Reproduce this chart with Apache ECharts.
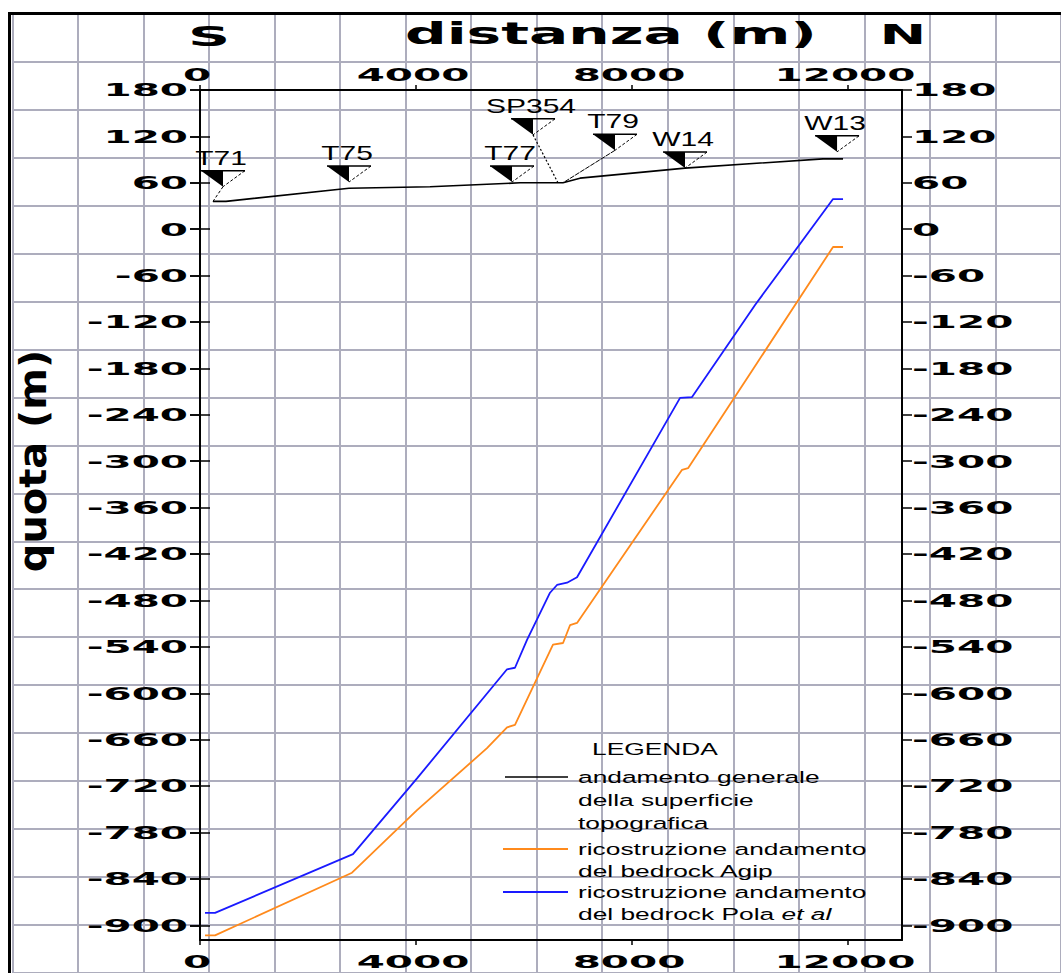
<!DOCTYPE html>
<html><head><meta charset="utf-8">
<script src="https://cdn.jsdelivr.net/npm/echarts@6/dist/echarts.min.js"></script>
<style>html,body{margin:0;padding:0;background:#fff}#main{width:1061px;height:973px}</style>
</head><body><div id="main"></div>
<script>
// ---- data ----
const xTicks = [0, 4000, 8000, 12000];
const xTickLabels = ['0', '4000', '8000', '12000'];
const yTicks = [180, 120, 60, 0, -60, -120, -180, -240, -300, -360, -420, -480, -540, -600, -660, -720, -780, -840, -900];
const yTickLabels = ['180', '120', '60', '0', '-60', '-120', '-180', '-240', '-300', '-360', '-420', '-480', '-540', '-600', '-660', '-720', '-780', '-840', '-900'];

// andamento generale della superficie topografica
const topo = [[241, 36], [481, 36], [2759, 53], [4259, 55], [5926, 60], [6722, 60], [7037, 66], [8982, 79], [11538, 91], [11908, 91]];
// ricostruzione andamento del bedrock Agip
const bedrockAgip = [[93, -913], [278, -913], [2815, -832], [4019, -751], [5315, -671], [5686, -644], [5833, -641], [6537, -537], [6723, -535], [6852, -512], [6982, -509], [8927, -311], [9038, -309], [10241, -181], [11723, -23], [11908, -23]];
// ricostruzione andamento del bedrock Pola et al
const bedrockPola = [[93, -884], [278, -884], [2833, -808], [4019, -710], [5686, -569], [5833, -567], [6056, -531], [6482, -470], [6611, -460], [6797, -457], [6982, -450], [8890, -218], [9112, -217], [10279, -98], [11723, 39], [11908, 39]];

const wellNames = ['T71', 'T75', 'T77', 'SP354', 'T79', 'W14', 'W13'];
const wellX = [426, 2759, 5778, 6167, 7685, 8982, 11797];
const wellY = [55, 61, 61, 122, 102, 79, 100];

const leaderT71 = [[426, 55], [241, 36]];
const leaderSP354 = [[6167, 122], [6630, 60]];
const leaderT79 = [[7685, 102], [6722, 60]];

const X_MIN = 0, X_MAX = 13000, Y_MIN = -919, Y_MAX = 180;

// ---- chart ----
const chart = echarts.init(document.getElementById('main'), null, { renderer: 'svg' });

const axisBlack = { show: true, onZero: false, lineStyle: { color: '#000', width: 2 } };
function xAx(pos) {
  return {
    gridIndex: 0, type: 'value', position: pos, min: X_MIN, max: X_MAX,
    axisLine: axisBlack,
    axisTick: { show: true, inside: false, length: 5, customValues: xTicks, lineStyle: { color: '#000', width: 1.5 } },
    axisLabel: { show: false, customValues: xTicks },
    splitLine: { show: false }
  };
}
function yAx(pos, inside, line) {
  return {
    gridIndex: 0, type: 'value', position: pos, min: Y_MIN, max: Y_MAX,
    axisLine: line ? axisBlack : { show: false },
    axisTick: { show: true, inside: inside, length: 10, customValues: yTicks, lineStyle: { color: '#000', width: 1.5 } },
    axisLabel: { show: false, customValues: yTicks },
    splitLine: { show: false }
  };
}
const paperLine = { show: true, lineStyle: { color: '#adadbd', width: 2 } };

const option = {
  animation: false,
  backgroundColor: '#fff',
  grid: [
    { left: 200, right: 159, top: 90, bottom: 33 },
    { left: 12.4, top: 13.6, width: 1081.6, height: 968 }
  ],
  xAxis: [
    xAx('bottom'), xAx('top'),
    { gridIndex: 1, type: 'value', min: 0, max: 16, interval: 1, axisLine: { show: false }, axisTick: { show: false }, axisLabel: { show: false }, splitLine: paperLine }
  ],
  yAxis: [
    yAx('left', false, true), yAx('right', false, true), yAx('left', true, false), yAx('right', true, false),
    { gridIndex: 1, type: 'value', inverse: true, min: 0, max: 20, interval: 1, axisLine: { show: false }, axisTick: { show: false }, axisLabel: { show: false }, splitLine: paperLine }
  ],
  series: [
    { name: 'andamento generale della superficie topografica', type: 'line', xAxisIndex: 0, yAxisIndex: 0, data: topo, symbol: 'none', lineStyle: { color: '#000', width: 1.6 }, z: 5 },
    { name: 'ricostruzione andamento del bedrock Agip', type: 'line', xAxisIndex: 0, yAxisIndex: 0, data: bedrockAgip, symbol: 'none', lineStyle: { color: '#ff8a1c', width: 1.8 }, z: 5 },
    { name: 'ricostruzione andamento del bedrock Pola et al', type: 'line', xAxisIndex: 0, yAxisIndex: 0, data: bedrockPola, symbol: 'none', lineStyle: { color: '#1a1aff', width: 1.8 }, z: 5 },
    { type: 'line', xAxisIndex: 0, yAxisIndex: 0, data: leaderT71, symbol: 'none', lineStyle: { color: '#000', width: 1, type: [3, 2] }, z: 5 },
    { type: 'line', xAxisIndex: 0, yAxisIndex: 0, data: leaderSP354, symbol: 'none', lineStyle: { color: '#000', width: 1.2, type: [2, 2] }, z: 5 },
    { type: 'line', xAxisIndex: 0, yAxisIndex: 0, data: leaderT79, symbol: 'none', lineStyle: { color: '#000', width: 1, type: [5, 1] }, z: 5 },
    {
      type: 'custom', xAxisIndex: 0, yAxisIndex: 0, z: 6, clip: false,
      data: wellX.map((x, i) => [x, wellY[i]]),
      renderItem: function (params, api) {
        const p = api.coord([api.value(0), api.value(1)]);
        const ax = p[0], ay = p[1], w = 22, h = 16;
        return {
          type: 'group', children: [
            { type: 'polygon', shape: { points: [[ax - w, ay - h], [ax, ay - h], [ax, ay]] }, style: { fill: '#000' } },
            { type: 'line', shape: { x1: ax - w, y1: ay - h, x2: ax + w, y2: ay - h }, style: { stroke: '#000', lineWidth: 1.5 } },
            { type: 'line', shape: { x1: ax + w, y1: ay - h, x2: ax, y2: ay }, style: { stroke: '#000', lineWidth: 1, lineDash: [3, 2] } },
            { type: 'text', x: ax - 2, y: ay - h - 3, scaleX: 1.5, style: { text: wellNames[params.dataIndex], font: '20px "Liberation Sans"', fill: '#000', align: 'center', verticalAlign: 'bottom', textAlign: 'center', textVerticalAlign: 'bottom' } }
          ]
        };
      }
    }
  ]
};
chart.setOption(option);

// ---- text (stretched like the reference) ----
const toPx = v => chart.convertToPixel({ xAxisIndex: 0 }, v);
const toPy = v => chart.convertToPixel({ yAxisIndex: 0 }, v);
const tickFont = 'bold 18px "DejaVu Sans"';
const SX = 2.25;
function txt(text, x, y, font, sx, align, valign, extra) {
  return Object.assign({ type: 'text', x: x, y: y, scaleX: sx, z: 100,
    style: { text: text, font: font, fill: '#000', align: align, verticalAlign: valign, textAlign: align, textVerticalAlign: valign } }, extra || {});
}
const g = [];
const plotLeft = toPx(X_MIN), plotRight = toPx(X_MAX), plotTop = toPy(Y_MAX), plotBottom = toPy(Y_MIN);
yTicks.forEach((v, i) => {
  g.push(txt(yTickLabels[i], plotLeft - 12, toPy(v), tickFont, SX, 'right', 'middle'));
  g.push(txt(yTickLabels[i], plotRight + 10, toPy(v), tickFont, SX, 'left', 'middle'));
});
xTicks.forEach((v, i) => {
  g.push(txt(xTickLabels[i], toPx(v) - 3, plotTop - 6, tickFont, SX, 'center', 'bottom'));
  g.push(txt(xTickLabels[i], toPx(v) - 3, plotBottom + 13, tickFont, SX, 'center', 'top'));
});
// titles
g.push(txt('distanza (m)', 405, 34, 'bold 30px "DejaVu Sans"', 1.94, 'left', 'middle'));
g.push(txt('S', 209, 37, 'bold 26px "DejaVu Sans"', 2.25, 'center', 'middle'));
g.push(txt('N', 903, 35, 'bold 26px "DejaVu Sans"', 2.15, 'center', 'middle'));
g.push(txt('quota (m)', 33, 461, 'bold 38px "DejaVu Sans"', 1.05, 'center', 'middle', { rotation: Math.PI / 2 }));
// legend
const lf = '17px "Liberation Sans"', LS = 1.55;
g.push(txt('LEGENDA', 655, 749, lf, LS, 'center', 'middle'));
const legendRows = [
  ['andamento generale', 777], ['della superficie', 800], ['topografica', 823],
  ['ricostruzione andamento', 849], ['del bedrock Agip', 871],
  ['ricostruzione andamento', 892]
];
legendRows.forEach(r => g.push(txt(r[0], 578, r[1], lf, LS, 'left', 'middle')));
g.push({ type: 'text', x: 578, y: 914, scaleX: LS, z: 100, style: { text: '{n|del bedrock Pola }{i|et al}', fill: '#000', align: 'left', verticalAlign: 'middle', textAlign: 'left', textVerticalAlign: 'middle',
  rich: { n: { font: lf, fill: '#000' }, i: { font: 'italic 17px "Liberation Sans"', fill: '#000' } } } });
function seg(x1, y1, x2, y2, color, w) {
  return { type: 'line', z: 100, shape: { x1: x1, y1: y1, x2: x2, y2: y2 }, style: { stroke: color, lineWidth: w } };
}
g.push(seg(505, 777, 568, 777, '#000', 1.5));
g.push(seg(503, 849, 568, 849, '#ff8a1c', 1.8));
g.push(seg(503, 892, 568, 892, '#1a1aff', 1.8));
// page frame
g.push(seg(8, 13.5, 1061, 13.5, '#000', 3));
g.push(seg(9.5, 12, 9.5, 973, '#000', 3));
chart.setOption({ graphic: { elements: g } });
</script></body></html>
